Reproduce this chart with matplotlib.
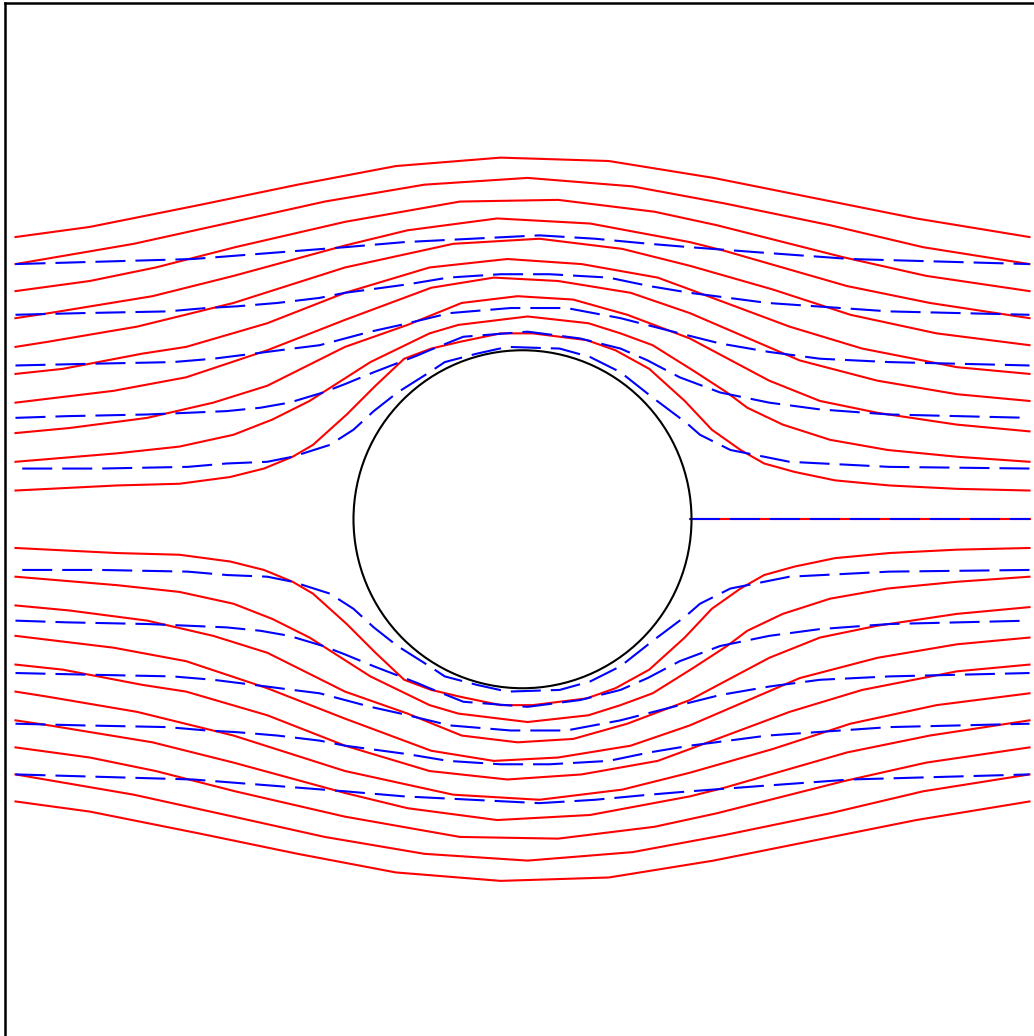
import matplotlib
matplotlib.use('Agg')
import matplotlib.pyplot as plt
from matplotlib.patches import Circle

# Stromlinien um einen Zylinder (Radius 1), Werte aus dem Bild abgelesen
# rote Linien: x-Stuetzstellen (fuer obere und untere Haelfte gleich)
red_x = [
    [-3.00, -2.56, -1.91, -1.33, -0.75, -0.13, 0.51, 1.13, 1.73, 2.33, 3.00],
    [-3.00, -2.30, -1.71, -1.17, -0.58, 0.03, 0.65, 1.19, 1.82, 2.37, 3.00],
    [-3.00, -2.56, -2.17, -1.70, -1.05, -0.37, 0.21, 0.78, 1.15, 1.90, 2.39, 3.00],
    [-3.00, -2.80, -2.19, -1.71, -1.05, -0.68, -0.15, 0.40, 0.99, 1.19, 1.92, 2.41, 3.00],
    [-3.00, -2.81, -2.28, -1.71, -1.05, -0.41, 0.10, 0.59, 0.99, 1.48, 1.94, 2.45, 3.00],
    [-3.00, -2.72, -2.25, -1.99, -1.51, -1.05, -0.55, -0.09, 0.35, 0.80, 0.99, 1.58, 2.01, 2.57, 3.00],
    [-3.00, -2.42, -1.99, -1.51, -1.05, -0.54, -0.17, 0.21, 0.64, 0.99, 1.64, 2.10, 2.57, 3.00],
    [-3.00, -2.68, -2.22, -1.83, -1.51, -1.05, -0.68, -0.36, -0.03, 0.30, 0.62, 0.99, 1.46, 1.76, 2.10, 2.57, 3.00],
    [-3.00, -2.40, -2.03, -1.71, -1.48, -1.26, -0.90, -0.55, -0.38, 0.03, 0.39, 0.58, 0.77, 1.01, 1.21, 1.33,
     1.54, 1.82, 2.16, 2.57, 3.00],
    [-3.00, -2.40, -2.03, -1.73, -1.53, -1.36, -1.24, -1.04, -0.87, -0.70, -0.54, -0.37, -0.13, 0.06, 0.38, 0.55,
     0.75, 0.96, 1.12, 1.29, 1.43, 1.61, 1.85, 2.17, 2.57, 3.00],
]
red_y_upper = [
    [1.67, 1.73, 1.86, 1.98, 2.09, 2.14, 2.12, 2.02, 1.90, 1.78, 1.67],
    [1.51, 1.63, 1.76, 1.88, 1.98, 2.02, 1.97, 1.87, 1.74, 1.61, 1.51],
    [1.35, 1.41, 1.49, 1.61, 1.76, 1.88, 1.89, 1.82, 1.74, 1.55, 1.44, 1.35],
    [1.19, 1.22, 1.32, 1.44, 1.62, 1.71, 1.78, 1.75, 1.64, 1.59, 1.38, 1.28, 1.19],
    [1.02, 1.05, 1.14, 1.28, 1.49, 1.63, 1.66, 1.60, 1.50, 1.36, 1.21, 1.10, 1.03],
    [0.86, 0.89, 0.98, 1.02, 1.16, 1.34, 1.49, 1.54, 1.51, 1.43, 1.36, 1.14, 1.01, 0.90, 0.86],
    [0.69, 0.76, 0.84, 1.00, 1.18, 1.37, 1.43, 1.41, 1.34, 1.22, 0.94, 0.82, 0.74, 0.70],
    [0.51, 0.54, 0.60, 0.69, 0.79, 1.02, 1.15, 1.28, 1.32, 1.30, 1.21, 1.07, 0.82, 0.70, 0.63, 0.56, 0.52],
    [0.34, 0.39, 0.43, 0.50, 0.59, 0.70, 0.93, 1.10, 1.15, 1.20, 1.16, 1.10, 1.03, 0.88, 0.75, 0.66,
     0.56, 0.47, 0.41, 0.37, 0.34],
    [0.17, 0.20, 0.21, 0.25, 0.30, 0.37, 0.44, 0.62, 0.79, 0.95, 1.01, 1.05, 1.10, 1.10, 1.06, 1.00,
     0.89, 0.70, 0.53, 0.41, 0.33, 0.28, 0.23, 0.20, 0.18, 0.17],
]
red_y_lower = [
    [-1.67, -1.73, -1.86, -1.98, -2.09, -2.14, -2.12, -2.02, -1.90, -1.78, -1.67],
    [-1.51, -1.63, -1.76, -1.88, -1.98, -2.02, -1.97, -1.87, -1.74, -1.61, -1.51],
    [-1.35, -1.41, -1.49, -1.61, -1.76, -1.88, -1.89, -1.82, -1.74, -1.55, -1.44, -1.35],
    [-1.19, -1.22, -1.32, -1.44, -1.62, -1.71, -1.78, -1.75, -1.64, -1.59, -1.38, -1.28, -1.19],
    [-1.02, -1.05, -1.14, -1.28, -1.49, -1.63, -1.66, -1.60, -1.50, -1.36, -1.21, -1.10, -1.03],
    [-0.86, -0.89, -0.98, -1.02, -1.16, -1.34, -1.49, -1.54, -1.51, -1.43, -1.36, -1.14, -1.01, -0.90, -0.86],
    [-0.69, -0.76, -0.84, -1.00, -1.18, -1.37, -1.43, -1.41, -1.34, -1.22, -0.94, -0.82, -0.74, -0.70],
    [-0.51, -0.54, -0.60, -0.69, -0.79, -1.02, -1.15, -1.28, -1.32, -1.30, -1.21, -1.07, -0.82, -0.70,
     -0.63, -0.56, -0.52],
    [-0.34, -0.39, -0.43, -0.50, -0.59, -0.70, -0.93, -1.10, -1.15, -1.20, -1.16, -1.10, -1.03, -0.88,
     -0.75, -0.66, -0.56, -0.47, -0.41, -0.37, -0.34],
    [-0.17, -0.20, -0.21, -0.25, -0.30, -0.37, -0.44, -0.62, -0.79, -0.95, -1.01, -1.05, -1.10, -1.10,
     -1.06, -1.00, -0.89, -0.70, -0.53, -0.41, -0.33, -0.28, -0.23, -0.20, -0.18, -0.17],
]

# blaue (gestrichelte) Linien
blue_x = [
    [-3.00, -1.95, -1.05, -0.70, 0.10, 0.43, 0.75, 0.99, 1.39, 1.94, 3.00],
    [-3.00, -2.60, -2.10, -1.87, -1.69, -1.45, -1.20, -1.05, -0.68, -0.44, -0.13, 0.16, 0.51, 0.75, 0.99,
     1.45, 2.17, 3.00],
    [-3.00, -2.56, -2.07, -1.83, -1.59, -1.36, -1.20, -1.05, -0.90, -0.72, -0.43, -0.07, 0.26, 0.58, 0.93,
     1.17, 1.46, 1.76, 2.17, 3.00],
    [-3.00, -2.70, -2.22, -1.98, -1.75, -1.55, -1.38, -1.18, -1.05, -0.88, -0.62, -0.55, -0.35, 0.03, 0.34,
     0.58, 0.74, 0.93, 1.17, 1.46, 1.76, 2.17, 3.00],
    [-2.96, -2.50, -1.98, -1.75, -1.51, -1.36, -1.14, -1.00, -0.88, -0.74, -0.55, -0.46, -0.27, -0.09, 0.22,
     0.40, 0.58, 0.77, 0.97, 1.05, 1.23, 1.58, 2.17, 3.00],
]
blue_y_upper = [
    [1.51, 1.54, 1.61, 1.64, 1.68, 1.66, 1.63, 1.61, 1.58, 1.54, 1.51],
    [1.21, 1.22, 1.23, 1.25, 1.26, 1.28, 1.31, 1.34, 1.39, 1.43, 1.45, 1.45, 1.43, 1.38, 1.34, 1.28, 1.23, 1.21],
    [0.91, 0.92, 0.93, 0.95, 0.98, 1.01, 1.03, 1.07, 1.11, 1.15, 1.22, 1.25, 1.25, 1.19, 1.10, 1.04, 0.99,
     0.95, 0.93, 0.91],
    [0.60, 0.61, 0.62, 0.63, 0.64, 0.66, 0.69, 0.75, 0.80, 0.87, 0.97, 1.00, 1.08, 1.11, 1.07, 1.01, 0.94,
     0.84, 0.75, 0.69, 0.65, 0.62, 0.60],
    [0.30, 0.30, 0.31, 0.33, 0.34, 0.37, 0.44, 0.53, 0.64, 0.75, 0.87, 0.93, 0.98, 1.02, 1.01, 0.96, 0.87,
     0.72, 0.57, 0.50, 0.41, 0.34, 0.31, 0.30],
]
blue_y_lower = [
    [-1.51, -1.54, -1.61, -1.64, -1.68, -1.66, -1.63, -1.61, -1.58, -1.54, -1.51],
    [-1.21, -1.22, -1.23, -1.25, -1.26, -1.28, -1.31, -1.34, -1.39, -1.43, -1.45, -1.45, -1.43, -1.38,
     -1.34, -1.28, -1.23, -1.21],
    [-0.91, -0.92, -0.93, -0.95, -0.98, -1.01, -1.03, -1.07, -1.11, -1.15, -1.22, -1.25, -1.25, -1.19,
     -1.10, -1.04, -0.99, -0.95, -0.93, -0.91],
    [-0.60, -0.61, -0.62, -0.63, -0.64, -0.66, -0.69, -0.75, -0.80, -0.87, -0.97, -1.00, -1.08, -1.11,
     -1.07, -1.01, -0.94, -0.84, -0.75, -0.69, -0.65, -0.62, -0.60],
    [-0.30, -0.30, -0.31, -0.33, -0.34, -0.37, -0.44, -0.53, -0.64, -0.75, -0.87, -0.93, -0.98, -1.02,
     -1.01, -0.96, -0.87, -0.72, -0.57, -0.50, -0.41, -0.34, -0.31, -0.30],
]

# Staulinie hinter dem Zylinder
wake_x = [0.99, 3.00]
wake_y = [0.0, 0.0]
cyl_radius = 1.0

fig = plt.figure(figsize=(10.34, 10.36), dpi=100)
ax = fig.add_axes([4.5 / 1034, 0.5 / 1036, 1036 / 1034, 1032.5 / 1036])

# rote Linien zuerst, blau liegt darueber
for xs, yu, yl in zip(red_x, red_y_upper, red_y_lower):
    ax.plot(xs, yu, color='red', lw=1.5)
    ax.plot(xs, yl, color='red', lw=1.5)
ax.plot(wake_x, wake_y, color='red', lw=1.5)

for xs, yu, yl in zip(blue_x, blue_y_upper, blue_y_lower):
    ax.plot(xs, yu, color='blue', lw=1.5, dashes=(14.4, 4.8))
    ax.plot(xs, yl, color='blue', lw=1.5, dashes=(14.4, 4.8))
ax.plot(wake_x, wake_y, color='blue', lw=1.5, dashes=(14.4, 4.8))

ax.add_patch(Circle((0, 0), cyl_radius, fill=False, edgecolor='black', lw=1.5, zorder=5))

ax.set_xlim(-3.065, 3.065)
ax.set_ylim(-3.055, 3.055)
ax.set_xticks([])
ax.set_yticks([])
for side in ['left', 'top']:
    ax.spines[side].set_linewidth(1.8)
ax.spines['right'].set_visible(False)
ax.spines['bottom'].set_visible(False)

fig.savefig('out.png', dpi=100)
